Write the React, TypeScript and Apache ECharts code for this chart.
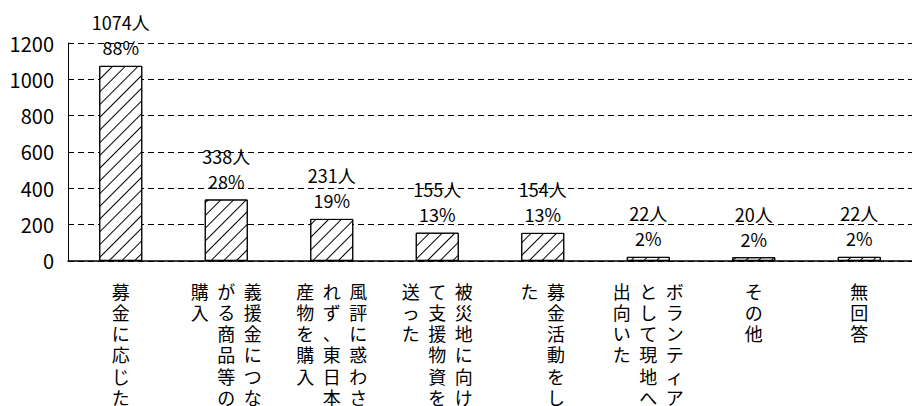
import React, { useEffect, useRef } from "react";
import * as echarts from "echarts";

const categories: string[] = [
  "募金に応じた",
  "義援金につながる商品等の購入",
  "風評に惑わされず、東日本産物を購入",
  "被災地に向けて支援物資を送った",
  "募金活動をした",
  "ボランティアとして現地へ出向いた",
  "その他",
  "無回答",
];
const counts: number[] = [1074, 338, 231, 155, 154, 22, 20, 22];
const percents: number[] = [88, 28, 19, 13, 13, 2, 2, 2];
const yTicks = { min: 0, max: 1200, interval: 200 };

const FONT = "'Noto Sans CJK JP', 'Noto Sans', sans-serif";
const COL_LEN = 6;

function verticalLabel(text: string): string {
  const chars = Array.from(text);
  const cols: string[][] = [];
  for (let i = 0; i < chars.length; i += COL_LEN) cols.push(chars.slice(i, i + COL_LEN));
  const rows: string[] = [];
  const nRows = Math.min(COL_LEN, chars.length);
  for (let r = 0; r < nRows; r++) {
    let line = "";
    for (let c = cols.length - 1; c >= 0; c--) {
      const ch = cols[c][r] ?? "\u3000";
      line += `{c|${ch}}`;
    }
    rows.push(line);
  }
  return rows.join("\n");
}

export default function App() {
  const ref = useRef<HTMLDivElement>(null);
  useEffect(() => {
    if (!ref.current) return;
    const chart = echarts.init(ref.current, undefined, { renderer: "svg" });
    chart.setOption({
      animation: false,
      backgroundColor: "#fff",
      grid: { left: 68, right: -10, top: 43, bottom: 145, containLabel: false },
      xAxis: {
        type: "category",
        data: categories,
        axisLine: { show: true, lineStyle: { color: "#000", width: 1.5 } },
        axisTick: { show: false },
        axisLabel: {
          interval: 0,
          margin: 19,
          color: "#000",
          formatter: (v: string) => verticalLabel(v),
          rich: {
            c: {
              width: 26.5,
              align: "center",
              fontSize: 18,
              lineHeight: 21.3,
              fontFamily: FONT,
              color: "#000",
            },
          },
        },
      },
      yAxis: {
        type: "value",
        min: yTicks.min,
        max: yTicks.max,
        interval: yTicks.interval,
        axisLine: { show: true, lineStyle: { color: "#000", width: 1 } },
        axisTick: { show: false },
        axisLabel: {
          color: "#000",
          fontSize: 20,
          fontFamily: FONT,
          margin: 14,
          formatter: (v: number) => String(v),
        },
        splitLine: { show: true, lineStyle: { color: "#000", width: 1, type: [6, 4] } },
      },
      series: [
        {
          type: "bar",
          data: counts,
          barWidth: 43,
          itemStyle: {
            color: "#fff",
            borderColor: "#000",
            borderWidth: 1,
            decal: {
              symbol: "rect",
              symbolSize: 1,
              color: "#000",
              backgroundColor: "#fff",
              dashArrayX: [1, 0],
              dashArrayY: [1, 8],
              rotation: -Math.PI / 4,
            },
          },
          label: {
            show: true,
            position: "top",
            distance: 6,
            color: "#000",
            fontSize: 18,
            lineHeight: 25,
            fontFamily: FONT,
            formatter: (p: any) => `${counts[p.dataIndex]}人\n${percents[p.dataIndex]}%`,
          },
        },
      ],
    });
    return () => chart.dispose();
  }, []);
  return (
    <div
      ref={ref}
      style={{ position: "fixed", left: 0, top: 0, width: 912, height: 406 }}
    />
  );
}
